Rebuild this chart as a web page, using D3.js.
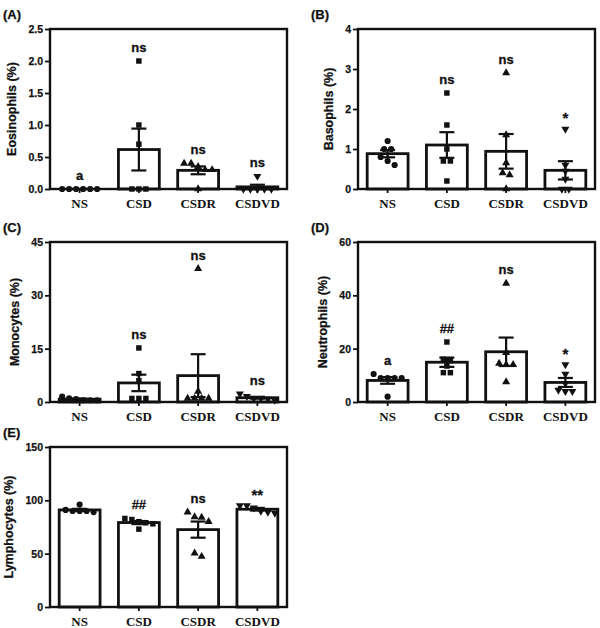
<!DOCTYPE html>
<html>
<head>
<meta charset="utf-8">
<script src="https://cdn.jsdelivr.net/npm/d3@7"></script>
<style>
body { margin: 0; background: #fff; }
</style>
</head>
<body>
<script>
// groups on the x axis
var groups = ["NS", "CSD", "CSDR", "CSDVD"];

// individual values per group (n = 6)
var eosinophils = [[0, 0, 0, 0, 0, 0], [2.0, 1.0, 0.7, 0, 0, 0], [0.4, 0.4, 0.35, 0.3, 0.3, 0], [0.2, 0, 0, 0, 0, 0]];
var basophils = [[1.2, 1.0, 1.0, 0.8, 0.7, 0.6], [2.4, 1.6, 1.0, 0.7, 0.7, 0.2], [2.9, 1.35, 0.65, 0.4, 0.35, 0], [1.5, 0.6, 0.45, 0.25, 0, 0]];
var monocytes = [[1.0, 0.5, 0.5, 0.5, 0.8, 1.5], [15.2, 8, 6, 1, 1, 1], [37.5, 3, 1, 1, 1, 1], [2.3, 1.6, 1.0, 1.0, 0.8, 0.5]];
var neutrophils = [[9, 9, 9, 9, 10.5, 2], [22.5, 16, 15.5, 13.5, 11, 11], [44.5, 18.5, 14.5, 14, 14, 7.5], [14, 10.5, 7, 4.5, 4, 4]];
var lymphocytes = [[96, 91, 90, 90, 89, 90], [83, 82, 80, 79, 78, 73], [89, 84.5, 84, 80, 50.5, 47.3], [95, 95, 93, 90, 89, 88]];

// y tick values
var eosTicks = [0, 0.5, 1.0, 1.5, 2.0, 2.5];
var basTicks = [0, 1, 2, 3, 4];
var monTicks = [0, 15, 30, 45];
var neuTicks = [0, 20, 40, 60];
var lymTicks = [0, 50, 100, 150];

// significance marks above each group
var eosMarks = ["a", "ns", "ns", "ns"];
var basMarks = ["", "ns", "ns", "*"];
var monMarks = ["", "ns", "ns", "ns"];
var neuMarks = ["a", "##", "ns", "*"];
var lymMarks = ["", "##", "ns", "**"];

var width = 600, height = 628;
var w = 237, h = 160;
var sans = "Arial, 'Liberation Sans', sans-serif";
var serif = "'Times New Roman', 'Liberation Serif', serif";
var ink = "#111";

var svg = d3.select("body").append("svg")
    .attr("width", width)
    .attr("height", height);

// one symbol per group, like the Prism defaults
var shapes = [
    d3.symbol().type(d3.symbolCircle).size(30),
    d3.symbol().type(d3.symbolSquare).size(30),
    d3.symbol().type(d3.symbolTriangle).size(28),
    d3.symbol().type(d3.symbolTriangle).size(28)
];

function mean(a) { return d3.mean(a); }
function sem(a) { return d3.deviation(a) / Math.sqrt(a.length); }

// spread points that would overlap into a centred row
function spread(vals, y) {
    var idx = d3.range(vals.length).sort(function (a, b) { return vals[b] - vals[a]; });
    var off = new Array(vals.length);
    var rows = [], cur = [];
    idx.forEach(function (i, k) {
        if (k > 0 && Math.abs(y(vals[i]) - y(vals[idx[k - 1]])) >= 5) {
            rows.push(cur);
            cur = [];
        }
        cur.push(i);
    });
    rows.push(cur);
    rows.forEach(function (r) {
        r.forEach(function (i, k) { off[i] = (k - (r.length - 1) / 2) * 7; });
    });
    return off;
}

function panel(opt) {
    var g = svg.append("g").attr("transform", "translate(" + opt.left + "," + opt.top + ")");

    var x = d3.scaleBand().domain(groups).range([0, w]).paddingInner(0.31).paddingOuter(0.155);
    var y = d3.scaleLinear().domain([0, opt.ticks[opt.ticks.length - 1]]).range([h, 0]);

    // bars
    g.selectAll("rect.bar")
        .data(opt.values)
        .enter()
        .append("rect")
        .attr("class", "bar")
        .attr("x", function (d, i) { return x(groups[i]); })
        .attr("y", function (d) { return y(mean(d)); })
        .attr("width", x.bandwidth())
        .attr("height", function (d) { return h - y(mean(d)); })
        .attr("fill", "#fff")
        .attr("stroke", ink)
        .attr("stroke-width", 2.8);

    // error bars, mean +/- SEM
    opt.values.forEach(function (d, i) {
        var cx = x(groups[i]) + x.bandwidth() / 2;
        var m = mean(d), s = sem(d);
        var eg = g.append("g").attr("stroke", ink).attr("stroke-width", 2.2);
        eg.append("line").attr("x1", cx).attr("x2", cx).attr("y1", y(m + s)).attr("y2", y(Math.max(0, m - s)));
        [m + s, m - s].forEach(function (v) {
            if (v < 0) return;
            eg.append("line").attr("x1", cx - 7.5).attr("x2", cx + 7.5).attr("y1", y(v)).attr("y2", y(v));
        });

        // points
        var off = spread(d, y);
        g.selectAll(null)
            .data(d)
            .enter()
            .append("path")
            .attr("d", shapes[i])
            .attr("fill", ink)
            .attr("transform", function (v, j) {
                return "translate(" + (cx + off[j]) + "," + y(v) + ")" + (i === 3 ? " rotate(180)" : "");
            });

        // significance text
        if (opt.marks[i]) {
            var top = Math.min(y(d3.max(d)), y(m + s));
            var star = opt.marks[i].indexOf("*") >= 0;
            g.append("text")
                .attr("x", cx)
                .attr("y", top - 9 + (star ? 3 : 0))
                .attr("text-anchor", "middle")
                .attr("font-family", sans)
                .attr("font-weight", "bold")
                .attr("font-size", star ? "15px" : "13px")
                .attr("fill", ink)
                .attr("stroke", ink)
                .attr("stroke-width", 0.3)
                .text(opt.marks[i]);
        }
    });

    // y axis
    var ya = g.append("g")
        .call(d3.axisLeft(y).tickValues(opt.ticks).tickSize(5).tickPadding(2).tickFormat(d3.format(opt.fmt)));
    ya.select(".domain").remove();
    ya.selectAll("line").attr("stroke", ink).attr("stroke-width", 1.8);
    ya.selectAll("text")
        .attr("font-family", sans)
        .attr("font-weight", "bold")
        .attr("font-size", "10.5px")
        .attr("fill", ink)
        .attr("stroke", ink)
        .attr("stroke-width", 0.25);

    // x axis
    var xa = g.append("g")
        .attr("transform", "translate(0," + h + ")")
        .call(d3.axisBottom(x).tickSize(4).tickPadding(6));
    xa.select(".domain").remove();
    xa.selectAll("line").attr("stroke", ink).attr("stroke-width", 1.8);
    xa.selectAll("text")
        .attr("font-family", serif)
        .attr("font-weight", "bold")
        .attr("font-size", "13px")
        .attr("fill", ink);

    // frame
    g.append("rect")
        .attr("width", w)
        .attr("height", h)
        .attr("fill", "none")
        .attr("stroke", ink)
        .attr("stroke-width", 2.4);

    // axis title, placed left of the widest tick label
    var maxW = d3.max(ya.selectAll("text").nodes(), function (n) { return n.getComputedTextLength(); });
    var tx = -7 - maxW - 17;
    g.append("text")
        .attr("transform", "translate(" + tx + "," + (h / 2) + ") rotate(-90)")
        .attr("text-anchor", "middle")
        .attr("dy", "0.35em")
        .attr("font-family", sans)
        .attr("font-weight", "bold")
        .attr("font-size", "12.5px")
        .attr("fill", ink)
        .attr("stroke", ink)
        .attr("stroke-width", 0.25)
        .text(opt.title);

    // panel letter
    g.append("text")
        .attr("x", -47)
        .attr("y", -10)
        .attr("font-family", sans)
        .attr("font-weight", "bold")
        .attr("font-size", "13px")
        .attr("fill", ink)
        .attr("stroke", ink)
        .attr("stroke-width", 0.25)
        .text(opt.label);
}

panel({ left: 50, top: 29, label: "(A)", title: "Eosinophils (%)", values: eosinophils, ticks: eosTicks, fmt: ".1f", marks: eosMarks });
panel({ left: 358, top: 29, label: "(B)", title: "Basophils (%)", values: basophils, ticks: basTicks, fmt: "d", marks: basMarks });
panel({ left: 50, top: 242, label: "(C)", title: "Monocytes (%)", values: monocytes, ticks: monTicks, fmt: "d", marks: monMarks });
panel({ left: 358, top: 242, label: "(D)", title: "Neutrophils (%)", values: neutrophils, ticks: neuTicks, fmt: "d", marks: neuMarks });
panel({ left: 50, top: 447, label: "(E)", title: "Lymphocytes (%)", values: lymphocytes, ticks: lymTicks, fmt: "d", marks: lymMarks });
</script>
</body>
</html>
